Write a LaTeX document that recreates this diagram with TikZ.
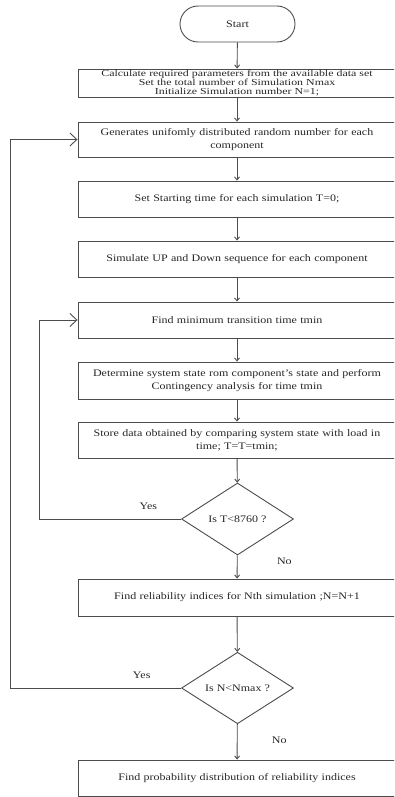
\documentclass[tikz,border=0pt]{standalone}
\usepackage{fontspec}
\setmainfont[FakeStretch=1.2]{Liberation Serif}
\newfontfamily\widefont[FakeStretch=1.29]{Liberation Serif}
\usetikzlibrary{arrows.meta,shapes.geometric}
\begin{document}
\begin{tikzpicture}[x=1pt,y=-1pt,
  every node/.style={font=\fontsize{10}{12.8}\selectfont, text=black!85},
  line/.style={draw=black!70, line width=0.9pt},
  procbox/.style={line, rectangle, minimum width=318pt, inner sep=1pt, align=center, text width=312pt},
  termbox/.style={line, rectangle, rounded corners=18pt, minimum width=115pt, minimum height=36pt},
  decbox/.style={line, diamond, minimum width=112pt, minimum height=72pt, inner sep=0pt},
  arr/.style={line, -{Straight Barb[length=3pt,width=5pt]}},
  backarr/.style={line, -{Straight Barb[length=7pt,width=13pt]}},
  lbl/.style={font=\fontsize{10}{10}\selectfont}
]
\useasboundingbox (0,0) rectangle (394,797);
\clip (0,0) rectangle (394,797);
\node[termbox] (start) at (237.5,24) {Start};
\node[procbox, minimum height=28pt, inner sep=0pt, font=\widefont\fontsize{9.2}{8.6}\selectfont] (b1) at (237,83) {Calculate required parameters from the available data set\\Set the total number of Simulation Nmax\\Initialize Simulation number N=1;};
\node[procbox, minimum height=35pt] (b2) at (237,139.5) {Generates unifomly distributed random number for each\\component};
\node[procbox, minimum height=36pt] (b3) at (237,199) {Set Starting time for each simulation T=0;};
\node[procbox, minimum height=36pt] (b4) at (237,259) {Simulate UP and Down sequence for each component};
\node[procbox, minimum height=36pt] (b5) at (237,320) {Find minimum transition time tmin};
\node[procbox, minimum height=37pt] (b6) at (237,380.5) {Determine system state rom component's state and perform\\Contingency analysis for time tmin};
\node[procbox, minimum height=36pt] (b7) at (237,440) {Store data obtained by comparing system state with load in\\time; T=T=tmin;};
\node[decbox] (d1) at (237.5,519) {Is T<8760 ?};
\node[procbox, minimum height=37pt] (b8) at (237,597.5) {Find reliability indices for Nth simulation ;N=N+1};
\node[decbox, minimum height=70pt] (d2) at (237.5,688) {Is N<Nmax ?};
\node[procbox, minimum height=36pt] (b9) at (237,778) {Find probability distribution of reliability indices};
\coordinate (l1) at (39,519);
\coordinate (l2) at (10,688);
\draw[arr] (start) -- (b1);
\draw[arr] (b1) -- (b2);
\draw[arr] (b2) -- (b3);
\draw[arr] (b3) -- (b4);
\draw[arr] (b4) -- (b5);
\draw[arr] (b5) -- (b6);
\draw[arr] (b6) -- (b7);
\draw[arr] (b7) -- (d1);
\draw[arr] (d1) -- node[lbl, pos=0.26, right=36pt] {No} (b8);
\draw[arr] (b8) -- (d2);
\draw[arr] (d2) -- node[lbl, pos=0.46, right=31pt] {No} (b9);
\draw[backarr] (d1.west) -- node[lbl, above=6pt, pos=0.23] {Yes} (l1) |- (b5.west);
\draw[backarr] (d2.west) -- node[lbl, above=6pt, pos=0.23] {Yes} (l2) |- (b2.west);
\end{tikzpicture}
\end{document}
